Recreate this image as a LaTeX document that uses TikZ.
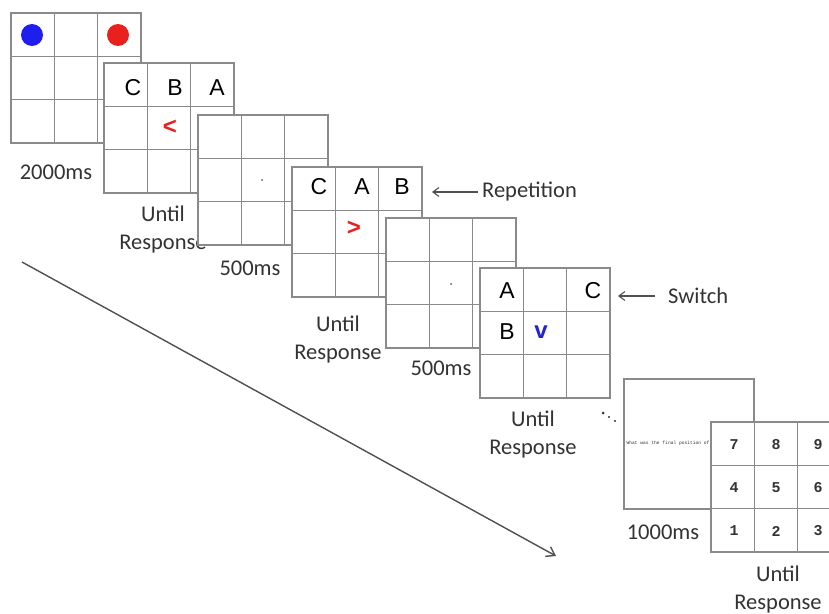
\documentclass[tikz,border=0pt]{standalone}
\usepackage{fontspec}
\setmainfont{Carlito}
\newfontfamily\arialf{Liberation Sans}
\newfontfamily\monof{Liberation Mono}
\usetikzlibrary{calc,arrows.meta}
\definecolor{gridgray}{HTML}{8A8A8A}
\definecolor{labgray}{HTML}{333333}
\definecolor{myred}{HTML}{E8201E}
\definecolor{myblue}{HTML}{1E1EEE}
\definecolor{vblue}{HTML}{2323D2}
\definecolor{arrgray}{HTML}{505050}
\tikzset{
  tgrid/.style={draw=gridgray, line width=1.3pt, fill=white, minimum width=130pt, minimum height=130pt,
    inner sep=0pt, outer sep=0pt, anchor=north west,
    path picture={
      \foreach \t in {1,2}{
        \draw[gridgray, line width=1.3pt]
          ($(path picture bounding box.north west)!\t/3!(path picture bounding box.north east)$) --
          ($(path picture bounding box.south west)!\t/3!(path picture bounding box.south east)$);
        \draw[gridgray, line width=1.3pt]
          ($(path picture bounding box.north west)!\t/3!(path picture bounding box.south west)$) --
          ($(path picture bounding box.north east)!\t/3!(path picture bounding box.south east)$);
      }
    }},
  tbox/.style={draw=gridgray, line width=1.3pt, fill=white, minimum width=130pt, minimum height=130pt,
    inner sep=0pt, outer sep=0pt, anchor=north west},
  letter/.style={font=\arialf\fontsize{23}{23}\selectfont, text=black, inner sep=0pt},
  cue/.style={font=\arialf\bfseries\fontsize{24}{24}\selectfont, inner sep=0pt},
  digit/.style={font=\monof\bfseries\fontsize{15}{15}\selectfont, text=labgray, inner sep=0pt},
  lab/.style={font=\fontsize{22.5}{28}\selectfont, text=labgray, align=center, inner sep=0pt},
  fix/.style={circle, fill=gridgray, minimum size=2.5pt, inner sep=0pt},
  disc/.style={circle, minimum size=22pt, inner sep=0pt},
  ell/.style={circle, fill=labgray, minimum size=2.4pt, inner sep=0pt},
  lblarrow/.style={draw=arrgray, line width=1.1pt, -{Straight Barb[length=6pt,width=9pt]}},
  timearrow/.style={draw=arrgray, line width=1.4pt, -{Straight Barb[length=8pt,width=11pt]}},
}
\begin{document}
\begin{tikzpicture}[x=1pt,y=-1pt]
\useasboundingbox (0,0) rectangle (829,613);
\clip (0,0) rectangle (829,613);
\fill[white] (0,0) rectangle (829,613);

% grid 1
\node[tgrid] (g1) at (11,13) {};
\node[disc, fill=myblue] (d1) at (32,35) {};
\node[disc, fill=myred] (d2) at (118,35) {};
\node[lab] (t1) at (56,172) {2000ms};

% grid 2
\node[tgrid] (g2) at (104,63) {};
\node[letter] (g2c) at (133,88) {C};
\node[letter] (g2b) at (175,88) {B};
\node[letter] (g2a) at (217,88) {A};
\node[cue, text=myred] (g2cue) at (170,127) {<};
\node[lab] (t2) at (163,229) {Until\\Response};

% grid 3
\node[tgrid] (g3) at (198,115) {};
\node[fix] (g3f) at (262,180) {};
\node[lab] (t3) at (250,268) {500ms};

% grid 4
\node[tgrid] (g4) at (292,167) {};
\node[letter] (g4c) at (319,187) {C};
\node[letter] (g4a) at (362,187) {A};
\node[letter] (g4b) at (402,187) {B};
\node[cue, text=myred] (g4cue) at (354,228) {>};
\node[lab] (t4) at (338,339) {Until\\Response};

% grid 5
\node[tgrid] (g5) at (386,218) {};
\node[fix] (g5f) at (451,284) {};
\node[lab] (t5) at (441,368) {500ms};

% grid 6
\node[tgrid] (g6) at (480,268) {};
\node[letter] (g6a) at (507,291) {A};
\node[letter] (g6c) at (593,291) {C};
\node[letter] (g6b) at (507,332) {B};
\node[cue, text=vblue] (g6cue) at (541,332) {v};
\node[lab] (t6) at (533,434) {Until\\Response};

% ellipsis
\node[ell, minimum size=3pt] (e1) at (603,413) {};
\node[ell] (e2) at (609,417) {};
\node[ell] (e3) at (615,421) {};

% question screen
\node[tbox] (g7) at (624,379) {};
\node[font=\monof\fontsize{4.6}{5}\selectfont, text=labgray, inner sep=0pt] (q) at (668,443) {What was the final position of};
\node[lab] (t7) at (663,532) {1000ms};

% response grid
\node[tgrid] (g8) at (711,422) {};
\node[digit] (n7) at (734,445) {7};
\node[digit] (n8) at (776,445) {8};
\node[digit] (n9) at (818,445) {9};
\node[digit] (n4) at (734,488) {4};
\node[digit] (n5) at (776,488) {5};
\node[digit] (n6) at (818,488) {6};
\node[digit] (n1) at (734,531) {1};
\node[digit] (n2) at (776,531) {2};
\node[digit] (n3) at (818,531) {3};
\node[lab] (t8) at (778,589) {Until\\Response};

% labels with arrows
\node[lab, anchor=west] (rep) at (482,192) {Repetition};
\node[lab, anchor=west] (sw) at (668,296) {Switch};
\draw[lblarrow, shorten <=4pt, shorten >=10pt] (rep.west) -- (rep.west -| g4.east);
\draw[lblarrow, shorten <=13pt, shorten >=8pt] (sw.west) -- (sw.west -| g6.east);

% time arrow
\coordinate (ts) at (22,262);
\coordinate (te) at (556,556);
\draw[timearrow] (ts) -- (te);
\end{tikzpicture}
\end{document}
